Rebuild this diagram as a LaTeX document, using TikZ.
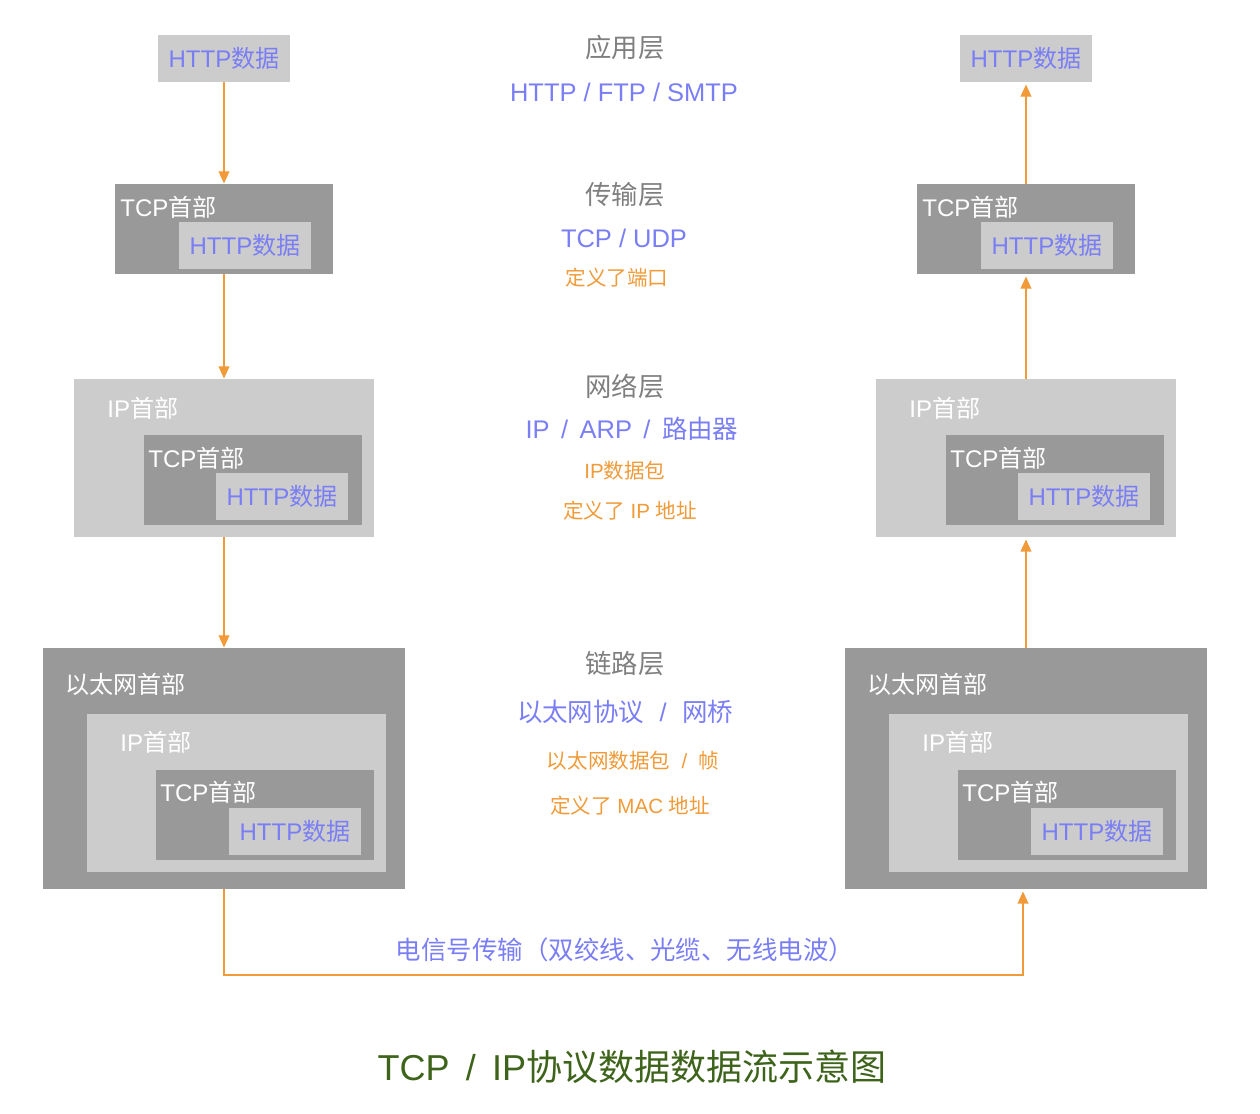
\documentclass[tikz,border=0pt]{standalone}
\usepackage{fontspec}
\setmainfont{Liberation Sans}
\newfontfamily\cjk{Noto Sans CJK SC}
\usetikzlibrary{arrows.meta}
\definecolor{dgray}{HTML}{999999}
\definecolor{lgray}{HTML}{CCCCCC}
\definecolor{tblue}{RGB}{122,126,245}
\definecolor{torange}{RGB}{240,154,56}
\definecolor{tgray}{HTML}{7F7F7F}
\definecolor{tgreen}{RGB}{62,100,27}
\newcommand{\slsep}[1]{\hspace{#1}/\hspace{#1}}
\tikzset{
  wh/.style 2 args={minimum width=#1*0.02cm, minimum height=#2*0.02cm},
  dbox/.style={fill=dgray, draw=none, inner sep=0pt},
  lbox/.style={fill=lgray, draw=none, inner sep=0pt},
  httpbox/.style={lbox, wh={132}{47}, text=tblue, font=\fontsize{13.7}{16}\selectfont},
  hdr/.style={anchor=west, inner sep=0pt, text=white, font=\fontsize{13.7}{16}\selectfont},
  layer/.style={inner sep=0pt, text=tgray, font=\fontsize{15}{18}\selectfont\cjk},
  proto/.style={inner sep=0pt, text=tblue, font=\fontsize{14.5}{17}\selectfont},
  note/.style={inner sep=0pt, text=torange, font=\fontsize{11.7}{14}\selectfont},
  flow/.style={draw=torange, line width=1.2pt, -{Triangle[length=7pt,width=6pt]}}
}
\begin{document}
\begin{tikzpicture}[x=0.02cm, y=-0.02cm]
\useasboundingbox (0,0) rectangle (1260,1114);
\foreach \s/\dx in {L/0, R/802}{
  \begin{scope}[xshift=\dx*0.02cm]
  % application
  \node[httpbox] (h\s) at (224,58.5) {HTTP{\cjk 数据}};
  % transport
  \node[dbox, wh={218}{90}] (t\s) at (224,229) {};
  \node[hdr] (t\s l) at (120,207) {TCP{\cjk 首部}};
  \node[httpbox] (t\s h) at (245,245.5) {HTTP{\cjk 数据}};
  % network
  \node[lbox, wh={300}{158}] (n\s) at (224,458) {};
  \node[hdr] (n\s l) at (107,408) {IP{\cjk 首部}};
  \node[dbox, wh={218}{90}] (n\s t) at (253,480) {};
  \node[hdr] (n\s tl) at (148,458) {TCP{\cjk 首部}};
  \node[httpbox] (n\s h) at (282,496.5) {HTTP{\cjk 数据}};
  % link
  \node[dbox, wh={362}{241}] (e\s) at (224,768.5) {};
  \node[hdr] (e\s l) at (65,684) {\cjk 以太网首部};
  \node[lbox, wh={299}{158}] (e\s i) at (236.5,793) {};
  \node[hdr] (e\s il) at (120,742) {IP{\cjk 首部}};
  \node[dbox, wh={218}{90}] (e\s t) at (265,815) {};
  \node[hdr] (e\s tl) at (160,792) {TCP{\cjk 首部}};
  \node[httpbox] (e\s h) at (295,831.5) {HTTP{\cjk 数据}};
  \end{scope}
}
% arrows
\draw[flow] (hL.south) -- (tL.north);
\draw[flow] (tL.south) -- (nL.north);
\draw[flow] (nL.south) -- (eL.north);
\draw[flow] (tR.north) -- ([yshift=-2*0.02cm]hR.south);
\draw[flow] (nR.north) -- ([yshift=-2*0.02cm]tR.south);
\draw[flow] (eR.north) -- ([yshift=-2*0.02cm]nR.south);
\coordinate (bl) at (224,975);
\draw[flow] (eL.south) -- (bl) -| ([xshift=-3*0.02cm, yshift=-2*0.02cm]eR.south);
% middle texts
\node[layer] (l1) at (625,48) {应用层};
\node[proto] (p1) at (624,92) {HTTP / FTP / SMTP};
\node[layer] (l2) at (625,195) {传输层};
\node[proto] (p2) at (624,238) {TCP / UDP};
\node[note] (n2) at (617,278) {\cjk 定义了端口};
\node[layer] (l3) at (625,386) {网络层};
\node[proto] (p3) at (632,429) {IP\slsep{0.45em}ARP\slsep{0.45em}{\cjk 路由器}};
\node[note] (n3a) at (625,471) {IP{\cjk 数据包}};
\node[note] (n3b) at (630,511) {{\cjk 定义了} IP {\cjk 地址}};
\node[layer] (l4) at (625,664) {链路层};
\node[proto] (p4) at (625,712) {{\cjk 以太网协议}\slsep{0.6em}{\cjk 网桥}};
\node[note] (n4a) at (633,761) {{\cjk 以太网数据包}\slsep{0.55em}{\cjk 帧}};
\node[note] (n4b) at (630,806) {{\cjk 定义了} MAC {\cjk 地址}};
\node[proto] (sig) at (625,950) {\cjk 电信号传输（双绞线、光缆、无线电波）};
\node[inner sep=0pt, text=tgreen, font=\fontsize{20.5}{24}\selectfont] (title) at (632,1067) {TCP\slsep{0.45em}IP{\cjk 协议数据数据流示意图}};
\end{tikzpicture}
\end{document}
